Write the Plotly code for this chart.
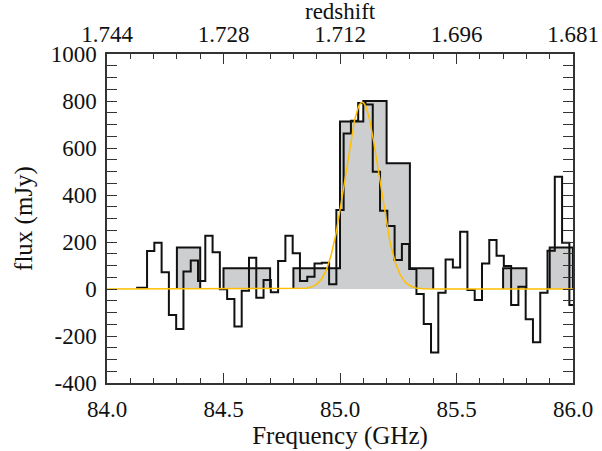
import plotly.graph_objects as go
import math

# ---- data ----
# fine-resolution spectrum: channel centres (GHz) and flux (mJy)
chan_start = 84.125
chan_width = 0.03125
flux_fine = [5, 5, 162, 197, 71, -111, -170, 74, 121, 34,
             227, 156, -1, -43, -160, -7, 133, -37, 38, -14,
             119, 227, 152, 34, 52, 109, 112, 20, 336, 662,
             716, 792, 785, 499, 333, 268, 123, 191, 85, -21,
             -149, -270, -16, 126, 92, 244, -4, -47, 109, 208,
             142, 98, -68, 10, -129, -227, -16, 163, 478, 197, -68]
freq_fine = [chan_start + i * chan_width for i in range(len(flux_fine))]

# coarse binned spectrum (0.1 GHz bins from 84.0 to 86.0)
bin_edges = [round(84.0 + 0.1 * i, 2) for i in range(21)]
flux_binned = [0, 0, 0, 177, 0, 88, 88, 0, 88, 88,
               713, 800, 535, 88, 0, 0, 0, 88, 0, 177]

# Gaussian fit parameters
fit_amp = 795.0
fit_center = 85.095
fit_sigma = 0.072

# axis labels
freq_ticks = [84.0, 84.5, 85.0, 85.5, 86.0]
freq_ticktext = ["84.0", "84.5", "85.0", "85.5", "86.0"]
redshift_ticktext = ["1.744", "1.728", "1.712", "1.696", "1.681"]
flux_ticks = [-400, -200, 0, 200, 400, 600, 800, 1000]
flux_ticktext = ["-400", "-200", "0", "200", "400", "600", "800", "1000"]

# ---- build ----
FONT = "Liberation Serif, DejaVu Serif, serif"
KFONT = dict(family=FONT, size=23, color="#111111")
TFONT = dict(family=FONT, size=25, color="#111111")
RFONT = dict(family=FONT, size=23, color="#111111")
BLACK = "#111111"
AXC = "#333333"

fig = go.Figure()

# grey fill of binned spectrum
fx, fy = [], []
for i, v in enumerate(flux_binned):
    fx += [bin_edges[i], bin_edges[i + 1]]
    fy += [v, v]
fig.add_trace(go.Scatter(x=fx, y=fy, mode="lines", line=dict(width=0),
                         fill="tozeroy", fillcolor="#cdcecf",
                         hoverinfo="skip", showlegend=False))

# outline of binned spectrum (only around non-zero runs)
ox, oy = [], []
i = 0
n = len(flux_binned)
while i < n:
    if flux_binned[i] != 0:
        ox.append(bin_edges[i]); oy.append(0)
        while i < n and flux_binned[i] != 0:
            ox += [bin_edges[i], bin_edges[i + 1]]
            oy += [flux_binned[i], flux_binned[i]]
            i += 1
        ox.append(bin_edges[i]); oy.append(0)
        ox.append(None); oy.append(None)
    else:
        i += 1
fig.add_trace(go.Scatter(x=ox, y=oy, mode="lines",
                         line=dict(color=BLACK, width=2),
                         hoverinfo="skip", showlegend=False))

# fine spectrum step line
fig.add_trace(go.Scatter(x=freq_fine, y=flux_fine, mode="lines",
                         line=dict(color=BLACK, width=2, shape="hvh"),
                         showlegend=False))

# Gaussian fit
gx = [84.0 + 0.002 * k for k in range(1001)]
gy = [fit_amp * math.exp(-0.5 * ((x - fit_center) / fit_sigma) ** 2) for x in gx]
fig.add_trace(go.Scatter(x=gx, y=gy, mode="lines",
                         line=dict(color="#ffbf00", width=1.5),
                         showlegend=False))

# dummy trace for top axis
fig.add_trace(go.Scatter(x=[84.0, 86.0], y=[None, None], xaxis="x2",
                         mode="lines", showlegend=False, hoverinfo="skip"))

fig.update_layout(
    width=602, height=451,
    margin=dict(l=107, r=29, t=54, b=68, autoexpand=False),
    paper_bgcolor="white", plot_bgcolor="white",
    font=KFONT,
    xaxis=dict(range=[84.0, 86.0], tickvals=freq_ticks, ticktext=freq_ticktext,
               ticks="inside", ticklen=10, tickwidth=1.2, tickcolor=AXC,
               minor=dict(dtick=0.1, ticks="inside", ticklen=5, tickcolor=AXC, tickwidth=1.2),
               showline=True, linecolor=AXC, linewidth=1.5, mirror=True,
               showgrid=False, zeroline=False, automargin=False,
               ticklabelstandoff=5, tickfont=KFONT,
               title=dict(text="Frequency (GHz)", standoff=0, font=TFONT)),
    xaxis2=dict(range=[84.0, 86.0], overlaying="x", side="top",
                tickvals=freq_ticks, ticktext=redshift_ticktext,
                ticks="inside", ticklen=10, tickwidth=1.2, tickcolor=AXC,
                minor=dict(dtick=0.1, ticks="inside", ticklen=5, tickcolor=AXC, tickwidth=1.2),
                showline=False, showgrid=False, zeroline=False, automargin=False,
                ticklabelstandoff=6, tickfont=KFONT),
    yaxis=dict(range=[-400, 1000], tickvals=flux_ticks, ticktext=flux_ticktext,
               ticks="inside", ticklen=10, tickwidth=1.2, tickcolor=AXC,
               minor=dict(dtick=50, ticks="inside", ticklen=5, tickcolor=AXC, tickwidth=1.2),
               showline=True, linecolor=AXC, linewidth=1.5, mirror="allticks",
               showgrid=False, zeroline=False, automargin=False,
               ticklabelstandoff=4, tickfont=KFONT,
               title=dict(text="flux (mJy)", standoff=11, font=TFONT)),
    annotations=[dict(text="redshift", xref="paper", yref="paper", x=0.5, y=1,
                      xanchor="center", yanchor="middle", yshift=43, borderpad=0,
                      showarrow=False, font=RFONT)],
)

fig.write_html("out.html", config={"displayModeBar": False},
               post_script="document.body.style.margin='0px';")
